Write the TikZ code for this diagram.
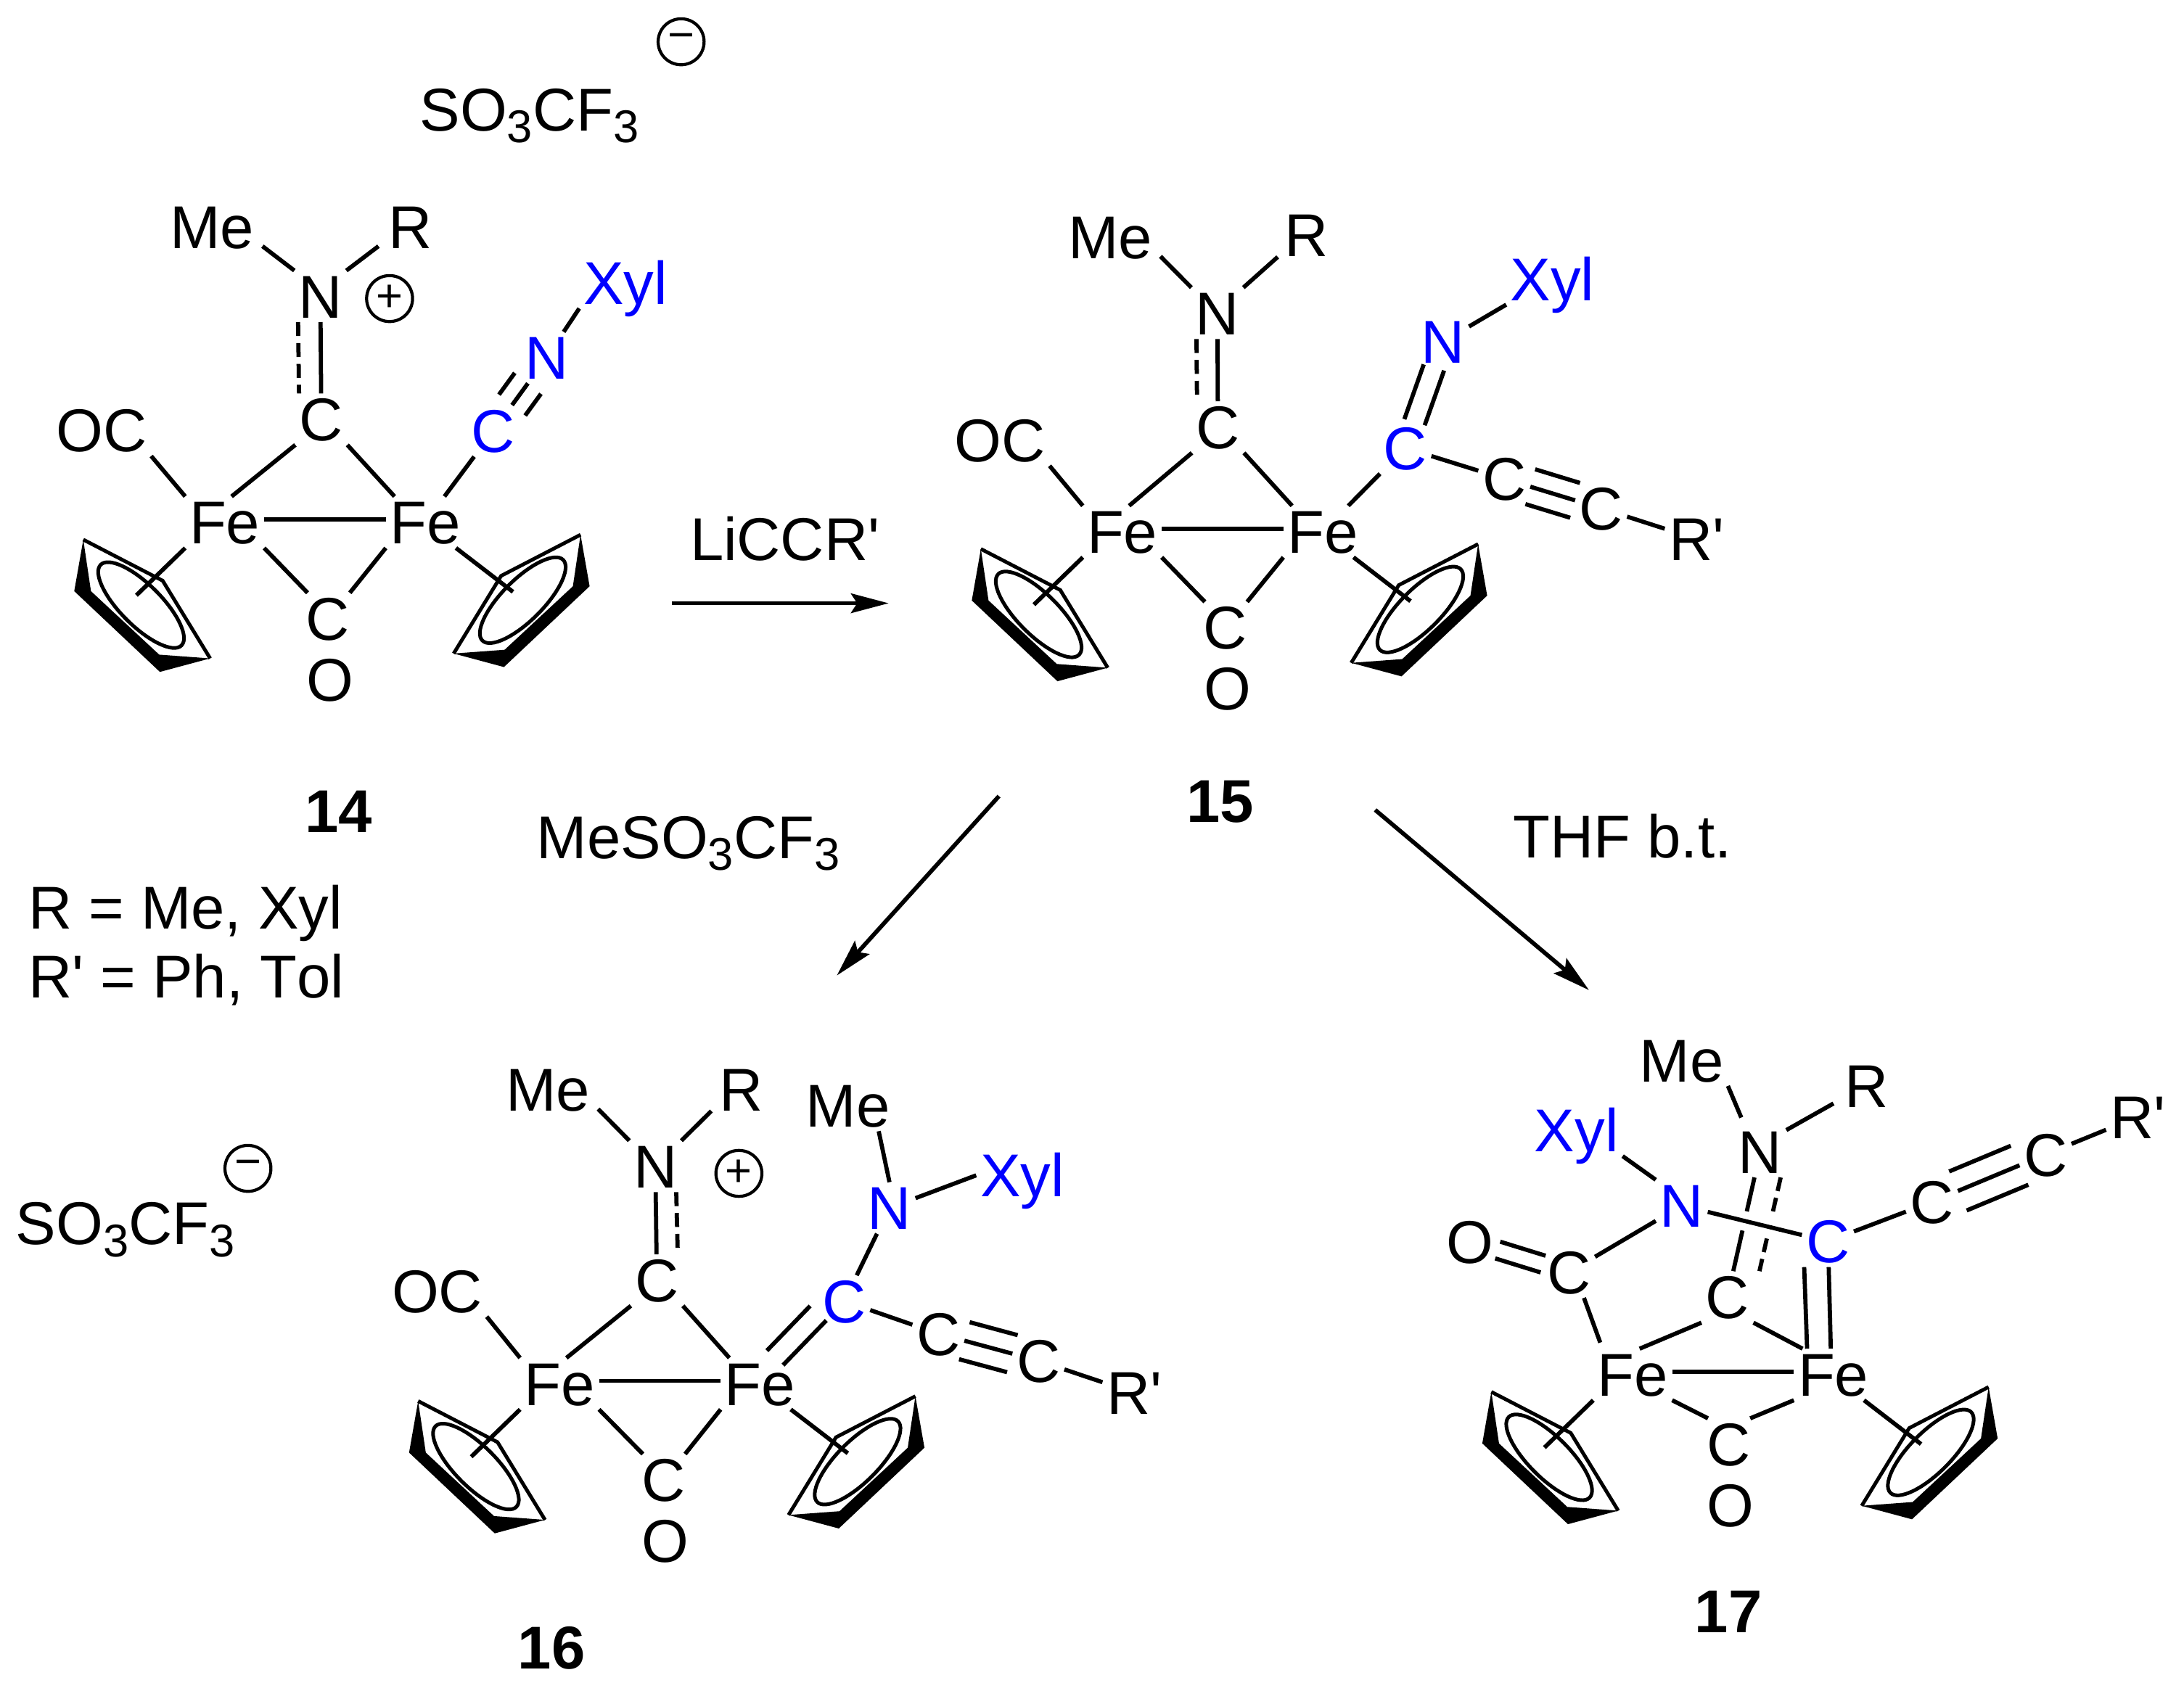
\documentclass[tikz,border=0pt]{standalone}
\usepackage{fontspec}
\newfontfamily\chemfont[Kerning=Off]{Liberation Sans}
\usetikzlibrary{arrows.meta}

\newcommand{\chsub}[1]{\raisebox{-4.3pt}{\fontsize{16.5}{16.5}\selectfont #1}}

\tikzset{
  atom/.style={font=\chemfont\fontsize{21.7}{21.7}\selectfont,text height=15.5pt,text depth=0pt,inner sep=1.3pt},
  atomb/.style={atom,text=blue},
  num/.style={atom,font=\chemfont\fontsize{21.7}{21.7}\bfseries\selectfont},
  lbl/.style={font=\chemfont\fontsize{21.7}{21.7}\selectfont,inner sep=0pt,anchor=base west},
  charge/.style={circle,draw,line width=1.1pt,minimum size=16.5pt,inner sep=0pt,font=\chemfont\fontsize{16.5}{16.5}\selectfont},
  bond/.style={line width=1.5pt},
  dbond/.style={line width=1.5pt,dash pattern=on 5pt off 2.5pt},
  halo/.style={white,line width=7pt},
  arrow/.style={line width=1.5pt,-{Stealth[length=13.5pt,width=7pt,inset=2.2pt]}},
  cpring/.pic={
    \fill (-41.5,-47) -- (-48,-10) -- (13.5,48) -- (49.6,38.3) -- (13,35.6) -- (-36,-10) -- cycle;
    \draw[line width=1.3pt] (-41.5,-47) -- (15.5,-17.5) -- (49.6,38.3);
    \draw[line width=1.3pt,rotate=-45] (0,0) ellipse (41 and 14.7);
  }
}

% two Fe, bridging C and CO, two Cp rings
\newcommand{\fecore}[4]{
  \begin{scope}[shift={(#2)},name prefix=#1-]
    \node[atom] (fel) at (0,0) {Fe};
    \node[atom] (fer) at (144,0) {Fe};
    \node[atom] (ca) at (#3) {C};
    \node[atom] (cb) at (#4) {C};
    \path (cb) ++(1.5,43.6) node[atom] (o) {O};
    \pic at (-60,59.5) {cpring};
    \pic[xscale=-1] at (214,56) {cpring};
    \coordinate (cpl) at (-63.4,52.5);
    \coordinate (cpr) at (207,50);
    \draw[bond] (fel.75) -- (ca.south west);
    \draw[bond] (ca.south east) -- (fer.140);
    \draw[bond] ([yshift=1pt]fel.east) -- ([yshift=1pt]fer.west);
    \draw[bond] (fel.south east) -- ([xshift=2pt]cb.north west);
    \draw[bond] (fer.south west) -- ([xshift=-1.5pt]cb.north east);
    \draw[bond] (fel.south west) -- (cpl);
    \draw[bond] (fer.-40) -- (cpr);
  \end{scope}
}

\newcommand{\triplebond}[4]{
  \draw[bond] (#1) -- (#2);
  \draw[bond,transform canvas={xshift=#3,yshift=#4}] (#1) -- (#2);
  \draw[bond,transform canvas={xshift=-1*(#3),yshift=-1*(#4)}] (#1) -- (#2);
}
\newcommand{\doublebond}[4]{
  \draw[bond,transform canvas={xshift=#3,yshift=#4}] (#1) -- (#2);
  \draw[bond,transform canvas={xshift=-1*(#3),yshift=-1*(#4)}] (#1) -- (#2);
}

\begin{document}
\begin{tikzpicture}[x=0.5pt,y=-0.5pt]
  \useasboundingbox (0,0) rectangle (1568,1208.5);

  % Compound 14
  \fecore{mA}{161.3,375}{69.4,-74}{74.2,69.2}
  \node[atom] (oc14) at (73,309) {OC};
  \node[atom] (me14) at (152.3,162.7) {Me};
  \node[atom] (r14) at (294.4,162.7) {R};
  \node[atom] (n14) at (230,212.8) {N};
  \node[charge] (plus14) at (279.7,214.4) {+};
  \node[atomb] (c14) at (354.2,309.4) {C};
  \node[atomb] (nb14) at (392.4,256.8) {N};
  \node[atomb] (xyl14) at (449,203) {Xyl};
  \node[num] (num14) at (243,582.5) {14};
  \node[lbl] (so14) at (301,94) {SO\chsub{3}CF\chsub{3}};
  \node[charge] (minus14) at (489,30) {−};
  \draw[bond] (oc14.south east) -- (mA-fel.north west);
  \draw[bond] ([xshift=1.5pt,yshift=2.2pt]me14.south east) -- (n14.north west);
  \draw[bond] ([xshift=-2pt,yshift=2.2pt]r14.south west) -- (n14.north east);
  \draw[bond] (n14) -- (mA-ca);
  \draw[dbond] ([xshift=-8pt]n14.south) -- ([xshift=-8pt]mA-ca.north);
  \draw[bond] (mA-fer) -- (c14);
  \triplebond{c14}{nb14}{4.7pt}{-3.75pt}
  \draw[bond] (nb14) -- (xyl14.south west);

  % Compound 15
  \fecore{mB}{805.7,381.7}{68.7,-75}{74,69}
  \node[atom] (oc15) at (718,316) {OC};
  \node[atom] (me15) at (797,170) {Me};
  \node[atom] (r15) at (938,168.4) {R};
  \node[atom] (n15) at (874,225) {N};
  \node[atomb] (c15) at (1009,321.7) {C};
  \node[atomb] (nb15) at (1036,245.4) {N};
  \node[atomb] (xyl15) at (1114.5,200.3) {Xyl};
  \node[atom] (ca15) at (1080,343.8) {C};
  \node[atom] (cc15) at (1149.5,365) {C};
  \node[atom] (rp15) at (1218,387) {R'};
  \node[num] (num15) at (876,575) {15};
  \draw[bond] (oc15.south east) -- (mB-fel.north west);
  \draw[bond] ([xshift=1.5pt,yshift=2.2pt]me15.south east) -- (n15.north west);
  \draw[bond] ([xshift=-1pt,yshift=1.2pt]r15.south west) -- (n15.north east);
  \draw[bond] (n15) -- (mB-ca);
  \draw[dbond] ([xshift=-7.5pt]n15.south) -- ([xshift=-7.5pt]mB-ca.north);
  \draw[bond] (mB-fer) -- (c15);
  \doublebond{c15}{nb15}{3.65pt}{-1.1pt}
  \draw[bond] (nb15) -- (xyl15.south west);
  \draw[bond] (c15) -- (ca15);
  \triplebond{ca15}{cc15}{1.75pt}{6.25pt}
  \draw[bond] (cc15) -- (rp15);

  % Compound 16
  \fecore{mC}{401.7,993.6}{69.9,-74.4}{74.5,69}
  \node[atom] (oc16) at (313.9,927) {OC};
  \node[atom] (me16) at (393.3,782.3) {Me};
  \node[atom] (r16) at (532.4,782.3) {R};
  \node[atom] (n16) at (470.5,837.6) {N};
  \node[charge] (plus16) at (530.5,842.6) {+};
  \node[atomb] (c16) at (606.1,934.3) {C};
  \node[atomb] (nb16) at (638.6,867.4) {N};
  \node[atom] (mf16) at (608.8,793.8) {Me};
  \node[atomb] (xyl16) at (734,844) {Xyl};
  \node[atom] (ca16) at (673.7,957.7) {C};
  \node[atom] (cc16) at (745.5,977.1) {C};
  \node[atom] (rp16) at (814.3,1000.2) {R'};
  \node[num] (num16) at (396,1183) {16};
  \node[lbl] (so16) at (11,893.8) {SO\chsub{3}CF\chsub{3}};
  \node[charge] (minus16) at (178,839) {−};
  \draw[bond] (oc16.south east) -- (mC-fel.north west);
  \draw[bond] ([xshift=1.5pt,yshift=2.2pt]me16.south east) -- (n16.north west);
  \draw[bond] ([xshift=-1.5pt,yshift=1.5pt]r16.south west) -- (n16.north east);
  \draw[bond] (n16) -- (mC-ca);
  \draw[dbond] ([xshift=7.5pt]n16.south) -- ([xshift=7.5pt]mC-ca.north);
  \doublebond{c16.205}{mC-fer.60}{2.9pt}{-2.6pt}
  \draw[bond] (c16) -- (nb16);
  \draw[bond] (mf16.-40) -- (nb16.north);
  \draw[bond] (nb16) -- (xyl16.west);
  \draw[bond] (c16) -- (ca16);
  \triplebond{ca16}{cc16}{1.9pt}{6.65pt}
  \draw[bond] (cc16) -- (rp16);

  % Compound 17
  \fecore{mD}{1172.2,987}{68,-55.7}{68.7,50}
  \node[atom] (me17) at (1207.4,761.3) {Me};
  \node[atom] (r17) at (1340,779.9) {R};
  \node[atom] (n17) at (1263.8,827) {N};
  \node[atomb] (xyl17) at (1131.8,811.7) {Xyl};
  \node[atomb] (nb17) at (1207.4,865.7) {N};
  \node[atom] (o17) at (1055.4,891.5) {O};
  \node[atom] (co17) at (1126.5,913.5) {C};
  \node[atomb] (c17) at (1312.3,891.4) {C};
  \node[atom] (ca17) at (1387,863) {C};
  \node[atom] (cc17) at (1468.6,829) {C};
  \node[atom] (rp17) at (1534.8,802) {R'};
  \node[num] (num17) at (1241,1157) {17};
  \draw[bond] (me17.south east) -- ([xshift=2.5pt,yshift=3pt]n17.north west);
  \draw[bond] ([xshift=-2.5pt,yshift=3pt]r17.south west) -- ([yshift=-1.5pt]n17.north east);
  \draw[bond] (n17) -- (mD-ca);
  \draw[dbond,transform canvas={xshift=9.4pt}] (n17) -- (mD-ca);
  \draw[halo] (nb17) -- (c17);
  \draw[bond] (nb17) -- (c17);
  \draw[bond] (xyl17.south east) -- (nb17.north west);
  \draw[bond] (nb17) -- (co17);
  \doublebond{o17}{co17}{0.9pt}{3pt}
  \draw[bond] (co17.-60) -- ([xshift=2.5pt,yshift=2.2pt]mD-fel.north west);
  \draw[bond] ([xshift=-8.5pt]c17.south) -- ([xshift=-9.4pt]mD-fer.north);
  \draw[bond] ([xshift=0.3pt]c17.south) -- ([xshift=-0.9pt]mD-fer.north);
  \draw[bond] (c17) -- (ca17);
  \triplebond{ca17}{cc17}{3.15pt}{-7pt}
  \draw[bond] (cc17) -- (rp17);

  % Legend
  \node[lbl] (rdef) at (20,667) {R = Me, Xyl};
  \node[lbl] (rpdef) at (20,716.7) {R' = Ph, Tol};

  % Reaction arrows
  \coordinate (stepAs) at (482.6,433.2);
  \coordinate (stepAe) at (638,433.2);
  \coordinate (stepBs) at (717.2,571.7);
  \coordinate (stepBe) at (600.8,700.5);
  \coordinate (stepCs) at (987.3,581.6);
  \coordinate (stepCe) at (1140.8,711);
  \draw[arrow] (stepAs) -- (stepAe);
  \draw[arrow] (stepBs) -- (stepBe);
  \draw[arrow] (stepCs) -- (stepCe);
  \node[lbl] (reagA) at (495,402.3) {LiCCR'};
  \node[lbl] (reagB) at (385,616.5) {MeSO\chsub{3}CF\chsub{3}};
  \node[lbl] (reagC) at (1086,616) {THF b.t.};
\end{tikzpicture}
\end{document}
